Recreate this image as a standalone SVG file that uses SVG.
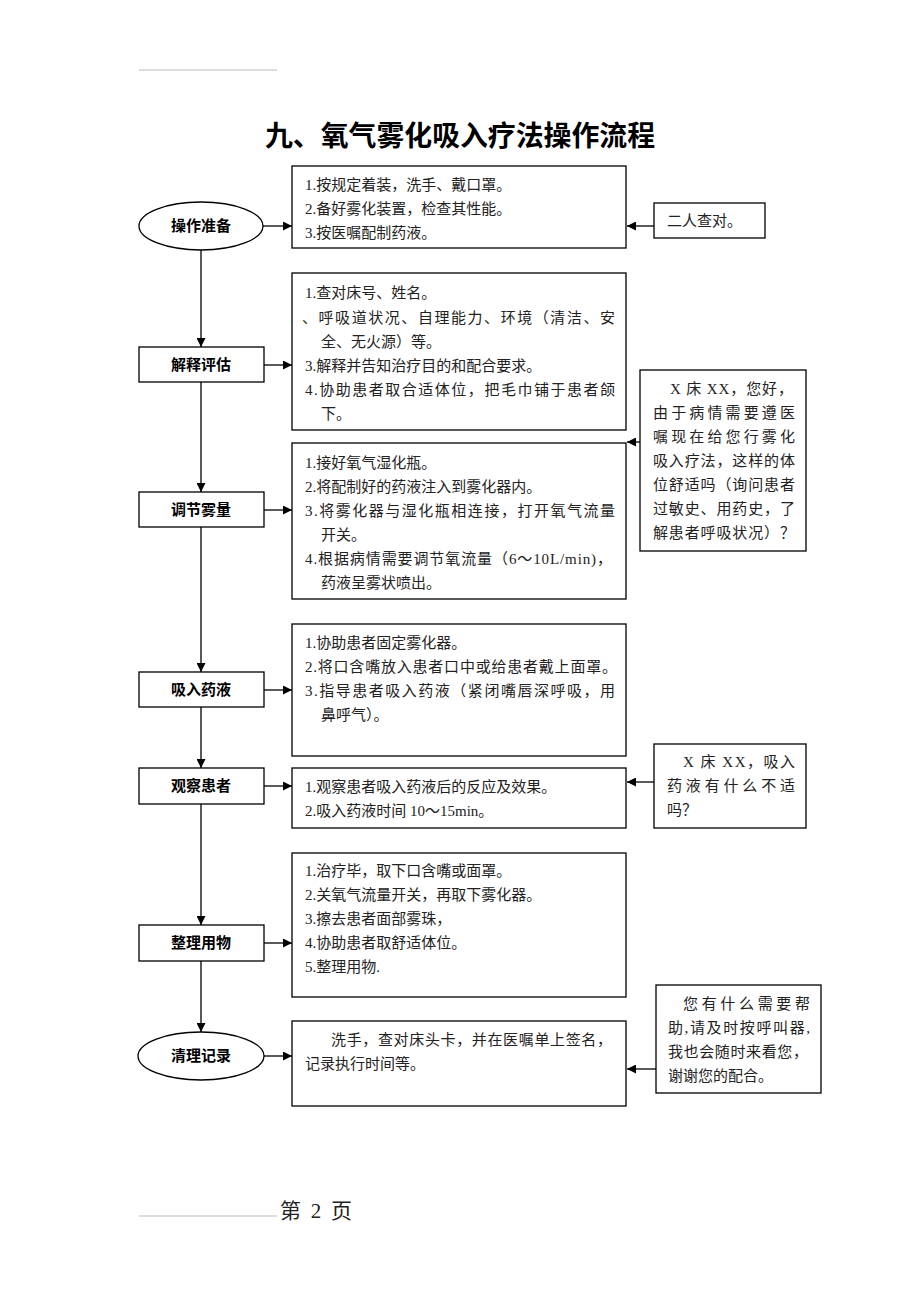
<svg xmlns="http://www.w3.org/2000/svg" width="920" height="1302" viewBox="0 0 920 1302">
<style>
.bx{fill:#fff;stroke:#000;stroke-width:1.3}
.t{font-family:"Liberation Serif","Noto Sans CJK SC",serif;font-size:15px;fill:#222}
.lb{font-family:"Noto Sans CJK SC","Liberation Sans",sans-serif;font-size:15px;font-weight:700;fill:#000;text-anchor:middle}
.ln{stroke:#000;stroke-width:1.3;fill:none}
</style>
<defs>
<marker id="ah" viewBox="0 0 10 10" refX="10" refY="5" markerWidth="9" markerHeight="9" markerUnits="userSpaceOnUse" orient="auto">
<path d="M0,0 L10,5 L0,10 z" fill="#000"/>
</marker>
</defs>
<rect width="920" height="1302" fill="#fff"/>
<line x1="139" y1="70" x2="277" y2="70" stroke="#aaa" stroke-width="0.8"/>
<text x="265" y="146" textLength="390" lengthAdjust="spacingAndGlyphs" style="font-family:'Noto Sans CJK SC','Liberation Serif',serif;font-size:28px;font-weight:700;fill:#000">九、氧气雾化吸入疗法操作流程</text>

<g id="connectors">
<line class="ln" x1="263" y1="226" x2="292" y2="226" marker-end="url(#ah)"/>
<line class="ln" x1="654" y1="226" x2="627" y2="226" marker-end="url(#ah)"/>
<line class="ln" x1="201" y1="250" x2="201" y2="347" marker-end="url(#ah)"/>
<line class="ln" x1="264" y1="365" x2="292" y2="365" marker-end="url(#ah)"/>
<line class="ln" x1="640" y1="442" x2="627" y2="442" marker-end="url(#ah)"/>
<line class="ln" x1="201" y1="382" x2="201" y2="492" marker-end="url(#ah)"/>
<line class="ln" x1="264" y1="510" x2="292" y2="510" marker-end="url(#ah)"/>
<line class="ln" x1="201" y1="527" x2="201" y2="672" marker-end="url(#ah)"/>
<line class="ln" x1="264" y1="690" x2="292" y2="690" marker-end="url(#ah)"/>
<line class="ln" x1="201" y1="707" x2="201" y2="768" marker-end="url(#ah)"/>
<line class="ln" x1="264" y1="786" x2="292" y2="786" marker-end="url(#ah)"/>
<line class="ln" x1="654" y1="782" x2="627" y2="782" marker-end="url(#ah)"/>
<line class="ln" x1="201" y1="804" x2="201" y2="925" marker-end="url(#ah)"/>
<line class="ln" x1="264" y1="943" x2="292" y2="943" marker-end="url(#ah)"/>
<line class="ln" x1="201" y1="961" x2="201" y2="1032" marker-end="url(#ah)"/>
<line class="ln" x1="264" y1="1056" x2="292" y2="1056" marker-end="url(#ah)"/>
<line class="ln" x1="656" y1="1069" x2="627" y2="1069" marker-end="url(#ah)"/>
</g>

<g id="n1">
<ellipse class="bx" cx="201" cy="226" rx="62" ry="24"/>
<text class="lb" x="201" y="231">操作准备</text>
</g>
<g id="b1">
<rect class="bx" x="292" y="166" width="334" height="82"/>
<text class="t" x="305" y="190">1.按规定着装，洗手、戴口罩。</text>
<text class="t" x="305" y="214">2.备好雾化装置，检查其性能。</text>
<text class="t" x="305" y="238">3.按医嘱配制药液。</text>
</g>
<g id="r1">
<rect class="bx" x="654" y="203" width="111" height="35"/>
<text class="t" x="667" y="226">二人查对。</text>
</g>

<g id="n2">
<rect class="bx" x="139" y="347" width="125" height="35"/>
<text class="lb" x="201" y="370">解释评估</text>
</g>
<g id="b2">
<rect class="bx" x="292" y="273" width="334" height="157"/>
<text class="t" x="305" y="298">1.查对床号、姓名。</text>
<text class="t" x="302" y="323" textLength="313" lengthAdjust="spacing">、呼吸道状况、自理能力、环境（清洁、安</text>
<text class="t" x="321" y="347">全、无火源）等。</text>
<text class="t" x="305" y="371">3.解释并告知治疗目的和配合要求。</text>
<text class="t" x="305" y="395" textLength="310" lengthAdjust="spacing">4.协助患者取合适体位，把毛巾铺于患者颌</text>
<text class="t" x="321" y="419">下。</text>
</g>
<g id="r2">
<rect class="bx" x="640" y="370" width="166" height="181"/>
<text class="t" x="670" y="394" textLength="123" lengthAdjust="spacing">X 床 XX，您好，</text>
<text class="t" x="653" y="418" textLength="142" lengthAdjust="spacing">由于病情需要遵医</text>
<text class="t" x="653" y="442" textLength="142" lengthAdjust="spacing">嘱现在给您行雾化</text>
<text class="t" x="653" y="466" textLength="142" lengthAdjust="spacing">吸入疗法，这样的体</text>
<text class="t" x="653" y="490" textLength="142" lengthAdjust="spacing">位舒适吗（询问患者</text>
<text class="t" x="653" y="514" textLength="142" lengthAdjust="spacing">过敏史、用药史，了</text>
<text class="t" x="653" y="538" textLength="142" lengthAdjust="spacing">解患者呼吸状况）？</text>
</g>

<g id="n3">
<rect class="bx" x="139" y="492" width="125" height="35"/>
<text class="lb" x="201" y="515">调节雾量</text>
</g>
<g id="b3">
<rect class="bx" x="292" y="443" width="334" height="156"/>
<text class="t" x="305" y="468">1.接好氧气湿化瓶。</text>
<text class="t" x="305" y="492">2.将配制好的药液注入到雾化器内。</text>
<text class="t" x="305" y="516" textLength="310" lengthAdjust="spacing">3.将雾化器与湿化瓶相连接，打开氧气流量</text>
<text class="t" x="321" y="540">开关。</text>
<text class="t" x="305" y="564" textLength="307" lengthAdjust="spacing">4.根据病情需要调节氧流量（6～10L/min)，</text>
<text class="t" x="321" y="588">药液呈雾状喷出。</text>
</g>

<g id="n4">
<rect class="bx" x="139" y="672" width="125" height="35"/>
<text class="lb" x="201" y="695">吸入药液</text>
</g>
<g id="b4">
<rect class="bx" x="292" y="624" width="334" height="132"/>
<text class="t" x="305" y="648">1.协助患者固定雾化器。</text>
<text class="t" x="305" y="672" textLength="312" lengthAdjust="spacing">2.将口含嘴放入患者口中或给患者戴上面罩。</text>
<text class="t" x="305" y="696" textLength="310" lengthAdjust="spacing">3.指导患者吸入药液（紧闭嘴唇深呼吸，用</text>
<text class="t" x="321" y="720">鼻呼气）。</text>
</g>

<g id="n5">
<rect class="bx" x="139" y="768" width="125" height="36"/>
<text class="lb" x="201" y="791">观察患者</text>
</g>
<g id="b5">
<rect class="bx" x="292" y="768" width="334" height="60"/>
<text class="t" x="305" y="792">1.观察患者吸入药液后的反应及效果。</text>
<text class="t" x="305" y="816">2.吸入药液时间 10～15min。</text>
</g>
<g id="r3">
<rect class="bx" x="654" y="744" width="152" height="84"/>
<text class="t" x="683" y="767" textLength="112" lengthAdjust="spacing">X 床 XX，吸入</text>
<text class="t" x="667" y="791" textLength="128" lengthAdjust="spacing">药液有什么不适</text>
<text class="t" x="667" y="815">吗？</text>
</g>

<g id="n6">
<rect class="bx" x="139" y="925" width="125" height="36"/>
<text class="lb" x="201" y="948">整理用物</text>
</g>
<g id="b6">
<rect class="bx" x="292" y="853" width="334" height="144"/>
<text class="t" x="305" y="876">1.治疗毕，取下口含嘴或面罩。</text>
<text class="t" x="305" y="900">2.关氧气流量开关，再取下雾化器。</text>
<text class="t" x="305" y="924">3.擦去患者面部雾珠，</text>
<text class="t" x="305" y="948">4.协助患者取舒适体位。</text>
<text class="t" x="305" y="972">5.整理用物.</text>
</g>

<g id="n7">
<ellipse class="bx" cx="201" cy="1056" rx="63" ry="24"/>
<text class="lb" x="201" y="1061">清理记录</text>
</g>
<g id="b7">
<rect class="bx" x="292" y="1021" width="334" height="85"/>
<text class="t" x="331" y="1045" textLength="281" lengthAdjust="spacing">洗手，查对床头卡，并在医嘱单上签名，</text>
<text class="t" x="305" y="1069">记录执行时间等。</text>
</g>
<g id="r4">
<rect class="bx" x="656" y="985" width="165" height="108"/>
<text class="t" x="683" y="1009" textLength="127" lengthAdjust="spacing">您有什么需要帮</text>
<text class="t" x="668" y="1033" textLength="142" lengthAdjust="spacing">助,请及时按呼叫器,</text>
<text class="t" x="668" y="1057" textLength="140" lengthAdjust="spacing">我也会随时来看您，</text>
<text class="t" x="668" y="1081">谢谢您的配合。</text>
</g>

<line x1="139" y1="1216" x2="277" y2="1216" stroke="#aaa" stroke-width="0.8"/>
<text x="280" y="1218" textLength="72" lengthAdjust="spacing" style="font-family:'Liberation Serif','Noto Sans CJK SC',serif;font-size:21px;fill:#222">第 2 页</text>
</svg>
